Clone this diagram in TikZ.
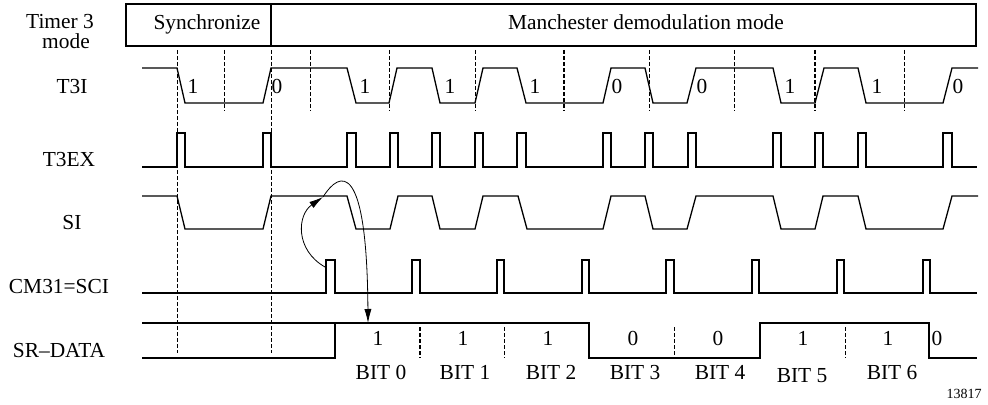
\documentclass[tikz,border=0pt]{standalone}
\usepackage{fontspec}
\setmainfont{Liberation Serif}
\usepackage{tikz}
\usetikzlibrary{arrows.meta}

\begin{document}
\begin{tikzpicture}[x=0.5pt, y=-0.5pt, >={Latex[length=7pt, width=3.6pt]},
    sig/.style={line width=0.65pt},
    guide/.style={line width=0.4pt, dash pattern=on 2pt off 1pt},
    lbl/.style={anchor=base, inner sep=0pt, font=\fontsize{10.7}{12}\selectfont}]
    \useasboundingbox (0,0) rectangle (988,405);

    % mode bar
    \draw[sig] (126,4) rectangle (976,46);
    \draw[sig] (271,4) -- (271,46);
    \node[lbl] (tmode) at (60,29) {Timer 3};
    \node[lbl] (tmode2) at (66,49) {mode};
    \node[lbl] (sync) at (207,30) {Synchronize};
    \node[lbl] (manch) at (646,30) {Manchester demodulation mode};

    % signal names
    \node[lbl] (t3i) at (72,94) {T3I};
    \node[lbl] (t3ex) at (69,167) {T3EX};
    \node[lbl] (si) at (72,230) {SI};
    \node[lbl] (cm31) at (59,293) {CM31=SCI};
    \node[lbl] (srdata) at (59,357) {SR--DATA};

    % guide lines
    \draw[guide] (177,50) -- (177,353);
    \draw[guide] (271,50) -- (271,353);
    \draw[guide] (224,50) -- (224,111);
    \draw[guide] (310,50) -- (310,111);
    \draw[guide] (389,50) -- (389,111);
    \draw[guide] (475,50) -- (475,111);
    \draw[guide, line width=0.7pt] (564,50) -- (564,111);
    \draw[guide] (649,50) -- (649,111);
    \draw[guide] (734,50) -- (734,111);
    \draw[guide, line width=0.7pt] (815,50) -- (815,111);
    \draw[guide] (904,50) -- (904,111);
    \draw[guide, line width=0.7pt] (420,327) -- (420,358);
    \draw[guide] (504,327) -- (504,358);
    \draw[guide] (674,327) -- (674,358);
    \draw[guide] (845,327) -- (845,358);

    % T3I
    \draw[sig] (142,68) -- (177,68) -- (185,103) -- (263,103) -- (271,68)
        -- (347,68) -- (356,103) -- (389,103) -- (397,68) -- (432,68) -- (440,103)
        -- (475,103) -- (483,68) -- (517,68) -- (526,103) -- (603,103) -- (611,68)
        -- (645,68) -- (653,103) -- (687,103) -- (696,68) -- (773,68) -- (781,103)
        -- (815,103) -- (824,68) -- (858,68) -- (866,103) -- (943,103) -- (952,68)
        -- (978,68);
    \node[lbl] (b1) at (193,94) {1};
    \node[lbl] (b2) at (277,94) {0};
    \node[lbl] (b3) at (365,94) {1};
    \node[lbl] (b4) at (450,94) {1};
    \node[lbl] (b5) at (535,94) {1};
    \node[lbl] (b6) at (617,94) {0};
    \node[lbl] (b7) at (702,94) {0};
    \node[lbl] (b8) at (790,94) {1};
    \node[lbl] (b9) at (877,94) {1};
    \node[lbl] (b10) at (958,94) {0};

    % T3EX
    \draw[sig] (142,167) -- (177,167) -- (177,133) -- (185,133) -- (185,167)
        -- (263,167) -- (263,133) -- (271,133) -- (271,167)
        -- (347,167) -- (347,133) -- (356,133) -- (356,167)
        -- (390,167) -- (390,133) -- (398,133) -- (398,167)
        -- (432,167) -- (432,133) -- (440,133) -- (440,167)
        -- (475,167) -- (475,133) -- (483,133) -- (483,167)
        -- (517,167) -- (517,133) -- (526,133) -- (526,167)
        -- (603,167) -- (603,133) -- (611,133) -- (611,167)
        -- (645,167) -- (645,133) -- (653,133) -- (653,167)
        -- (688,167) -- (688,133) -- (696,133) -- (696,167)
        -- (773,167) -- (773,133) -- (781,133) -- (781,167)
        -- (815,167) -- (815,133) -- (823,133) -- (823,167)
        -- (858,167) -- (858,133) -- (866,133) -- (866,167)
        -- (943,167) -- (943,133) -- (952,133) -- (952,167)
        -- (977,167);

    % SI
    \draw[sig] (142,196) -- (177,196) -- (185,229) -- (263,229) -- (271,196)
        -- (347,196) -- (356,229) -- (390,229) -- (398,196) -- (432,196) -- (440,229)
        -- (475,229) -- (483,196) -- (518,196) -- (527,229) -- (603,229) -- (611,196)
        -- (645,196) -- (653,229) -- (687,229) -- (696,196) -- (773,196) -- (781,229)
        -- (815,229) -- (823,196) -- (858,196) -- (866,229) -- (943,229) -- (952,196)
        -- (978,196);

    % CM31=SCI
    \draw[sig] (142,293) -- (326,293) -- (326,260) -- (335,260) -- (335,293)
        -- (412,293) -- (412,260) -- (420,260) -- (420,293)
        -- (497,293) -- (497,260) -- (504,260) -- (504,293)
        -- (582,293) -- (582,260) -- (589,260) -- (589,293)
        -- (666,293) -- (666,260) -- (674,260) -- (674,293)
        -- (752,293) -- (752,260) -- (759,260) -- (759,293)
        -- (837,293) -- (837,260) -- (844,260) -- (844,293)
        -- (923,293) -- (923,260) -- (930,260) -- (930,293)
        -- (977,293);

    % SR-DATA
    \draw[sig] (142,323) -- (589,323) -- (589,358) -- (760,358) -- (760,323)
        -- (929,323) -- (929,358) -- (977,358);
    \draw[sig] (142,358) -- (335,358) -- (335,323);
    \node[lbl] (d0) at (378,345) {1};
    \node[lbl] (d1) at (463,345) {1};
    \node[lbl] (d2) at (548,345) {1};
    \node[lbl] (d3) at (633,345) {0};
    \node[lbl] (d4) at (718,345) {0};
    \node[lbl] (d5) at (803,345) {1};
    \node[lbl] (d6) at (888,345) {1};
    \node[lbl] (d7) at (937,345) {0};
    \node[lbl] (bit0) at (381,379) {BIT 0};
    \node[lbl] (bit1) at (465,379) {BIT 1};
    \node[lbl] (bit2) at (551,379) {BIT 2};
    \node[lbl] (bit3) at (635,379) {BIT 3};
    \node[lbl] (bit4) at (720,379) {BIT 4};
    \node[lbl] (bit5) at (802,382) {BIT 5};
    \node[lbl] (bit6) at (892,379) {BIT 6};
    \node[anchor=base, inner sep=0pt, font=\fontsize{7}{8}\selectfont] (fig) at (964,398) {13817};

    % sampling arrows
    \coordinate (cmtop) at (325,267);
    \coordinate (sihit) at (323,197);
    \coordinate (srhit) at (368,323);
    \draw[->, line width=0.4pt] (cmtop) .. controls (295,250) and (297,215) .. (sihit);
    \draw[->, line width=0.4pt] (sihit) .. controls (340,170) and (367,160) .. (srhit);
\end{tikzpicture}
\end{document}
